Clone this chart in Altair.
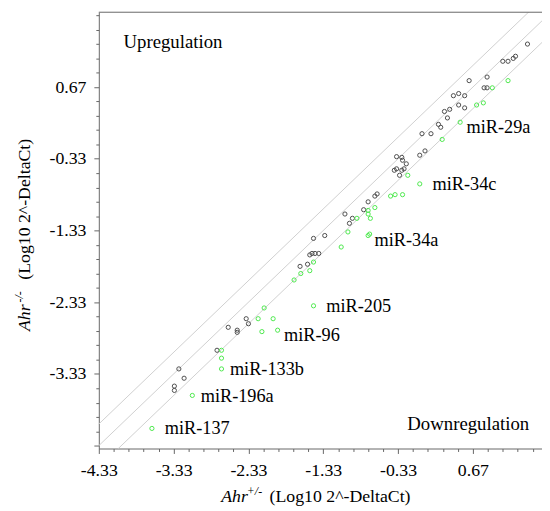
import altair as alt
import pandas as pd

# ---- data (log10 2^-DeltaCt) ----
grey_x = [1.40, 1.24, 1.21, 1.07, 1.14, 0.62, 0.86, 0.82, 0.86, 0.41,
          0.48, 0.56, 0.29, 0.36, 0.48, 0.56, 0.33, 0.21, 0.24, -0.01,
          0.11, -0.04, 0.03, -0.35, -0.28, -0.27, -0.22, -0.35, -0.38, -0.28,
          -0.25, -0.31, -0.61, -0.64, -0.73, -0.79, -1.04, -0.94, -0.98, -1.46,
          -1.31, -1.51, -1.48, -1.44, -1.39, -1.54, -1.64, -2.36, -2.33, -2.60,
          -2.48, -2.48, -2.75, -3.26, -3.19, -3.32, -3.32]
grey_y = [1.27, 1.10, 1.07, 1.03, 1.03, 0.76, 0.81, 0.66, 0.66, 0.55,
          0.58, 0.55, 0.33, 0.36, 0.42, 0.38, 0.24, 0.15, 0.11, 0.02,
          0.02, -0.28, -0.22, -0.30, -0.31, -0.35, -0.40, -0.47, -0.49, -0.49,
          -0.47, -0.56, -0.82, -0.85, -0.93, -1.04, -1.10, -1.16, -1.23, -1.44,
          -1.40, -1.67, -1.65, -1.65, -1.65, -1.80, -1.83, -2.56, -2.63, -2.68,
          -2.72, -2.75, -3.00, -3.26, -3.39, -3.50, -3.56]

green_x = [1.14, 0.93, 0.72, 0.81, 0.50, 0.26, -0.20, -0.04, -0.43, -0.37,
           -0.27, -0.64, -0.73, -0.73, -0.88, -0.70, -1.00, -0.71, -0.73, -1.09,
           -1.46, -1.63, -1.51, -1.72, -2.12, -1.46, -2.20, -2.00, -2.15, -1.94,
           -2.69, -2.69, -2.69, -3.08, -3.62]
green_y = [0.76, 0.66, 0.42, 0.45, 0.18, -0.06, -0.56, -0.68, -0.85, -0.83,
           -0.83, -1.01, -1.05, -1.10, -1.16, -1.16, -1.35, -1.38, -1.40, -1.56,
           -1.77, -1.93, -1.89, -2.02, -2.41, -2.38, -2.56, -2.56, -2.74, -2.72,
           -3.00, -3.11, -3.26, -3.63, -4.09]
green_names = ["", "", "", "", "miR-29a", "", "", "miR-34c", "", "",
               "", "", "", "", "", "", "", "", "miR-34a", "",
               "", "", "", "", "", "miR-205", "", "", "", "miR-96",
               "", "", "miR-133b", "miR-196a", "miR-137"]

# fold-change threshold lines (log10 2)
line_offsets = [0.301, 0.0, -0.301]

x_major = [-4.33, -3.33, -2.33, -1.33, -0.33, 0.67]
y_major = [-3.33, -2.33, -1.33, -0.33, 0.67]
x_ticks = [round(-4.33 + 0.2 * k, 2) for k in range(30)]
y_ticks = [round(-4.33 + 0.2 * k, 2) for k in range(31)]

X_DOMAIN = [-4.33, 1.594]
Y_DOMAIN = [-4.37, 1.714]
W, H = 449, 442
FONT = "Liberation Serif"
AXIS_COLOR = "#666666"
GREY = "#4d4d4d"
GREEN = "#4de84d"

pts = pd.concat([
    pd.DataFrame({"x": grey_x, "y": grey_y, "grp": "grey", "name": ""}),
    pd.DataFrame({"x": green_x, "y": green_y, "grp": "green", "name": green_names}),
], ignore_index=True)

xscale = alt.Scale(domain=X_DOMAIN, nice=False, zero=False)
yscale = alt.Scale(domain=Y_DOMAIN, nice=False, zero=False)


def major_test(vals):
    return f"indexof({vals}, datum.value) >= 0"


def make_axis(ticks, label_major):
    return alt.Axis(
        values=ticks, tickCount=1000, title=None, grid=False,
        labelExpr=f"{major_test(label_major)} ? '' + datum.value : ''",
        labelFlush=False, labelOverlap=False,
        tickSize={"condition": {"test": major_test(x_major), "value": 5}, "value": 3},
        labelPadding=8, labelFont=FONT, labelFontSize=18, labelColor="black",
        domainColor=AXIS_COLOR, tickColor=AXIS_COLOR,
    )


x_axis = make_axis(x_ticks, x_major)
y_axis = make_axis(y_ticks, y_major)

base = alt.Chart(pts)

lines = alt.Chart(pd.DataFrame({"offset": line_offsets})).transform_calculate(
    x0="-6", x1="3", y0="-6 + datum.offset", y1="3 + datum.offset"
).mark_rule(color="#cfcfcf", strokeWidth=1, clip=True).encode(
    x=alt.X("x0:Q", scale=xscale, axis=x_axis),
    x2="x1:Q",
    y=alt.Y("y0:Q", scale=yscale, axis=y_axis),
    y2="y1:Q",
)

grey_pts = base.transform_filter(alt.datum.grp == "grey").mark_point(
    shape="circle", filled=False, size=18, strokeWidth=1, color=GREY, opacity=1
).encode(x=alt.X("x:Q", scale=xscale), y=alt.Y("y:Q", scale=yscale))

green_pts = base.transform_filter(alt.datum.grp == "green").mark_point(
    shape="circle", filled=False, size=18, strokeWidth=1, color=GREEN, opacity=1
).encode(x=alt.X("x:Q", scale=xscale), y=alt.Y("y:Q", scale=yscale))


def label_layer(names, dx, dy):
    return base.transform_filter(
        alt.FieldOneOfPredicate(field="name", oneOf=names)
    ).mark_text(
        align="left", baseline="middle", dx=dx, dy=dy,
        font=FONT, fontSize=18.5, color="black"
    ).encode(x=alt.X("x:Q", scale=xscale), y=alt.Y("y:Q", scale=yscale), text="name:N")


labels_a = label_layer(["miR-34c", "miR-205", "miR-137"], 13, 0)
labels_b = label_layer(["miR-29a", "miR-34a", "miR-96"], 6.5, 4.5)
labels_c = label_layer(["miR-133b", "miR-196a"], 8.5, 0.5)

one = pd.DataFrame({"a": [0]})


def txt(text, x, y, size=18, **kw):
    return alt.Chart(one).mark_text(
        text=text, font=FONT, fontSize=size, color="black",
        baseline="alphabetic", **kw
    ).encode(x=alt.value(x), y=alt.value(y))


annotations = [
    txt("Upregulation", 25, 36, size=19, align="left"),
    txt("Downregulation", 436, 423, size=19, align="right"),
    # x-axis title
    txt("Ahr", 124, 496, align="left", fontStyle="italic"),
    txt("+/-", 150, 489, size=12, align="left", fontStyle="italic"),
    txt("(Log10 2^-DeltaCt)", 173, 496, align="left"),
    # y-axis title
    txt("Ahr", -70, 323, align="left", fontStyle="italic", angle=270),
    txt("-/-", -77, 294, size=12, align="left", fontStyle="italic", angle=270),
    txt("(Log10 2^-DeltaCt)", -70, 271, align="left", angle=270),
]

top_border = alt.Chart(one).mark_rule(color=AXIS_COLOR, strokeWidth=1).encode(
    x=alt.value(0), x2=alt.value(W), y=alt.value(0)
)

chart = alt.layer(
    lines, grey_pts, green_pts, labels_a, labels_b, labels_c, top_border, *annotations
).properties(
    width=W, height=H,
    autosize=alt.AutoSizeParams(type="none"),
    padding={"left": 92, "top": 1, "right": 0, "bottom": 58},
    background="white",
).configure_view(stroke="transparent")

chart.save("out.html", embed_options={"renderer": "svg", "actions": False})
